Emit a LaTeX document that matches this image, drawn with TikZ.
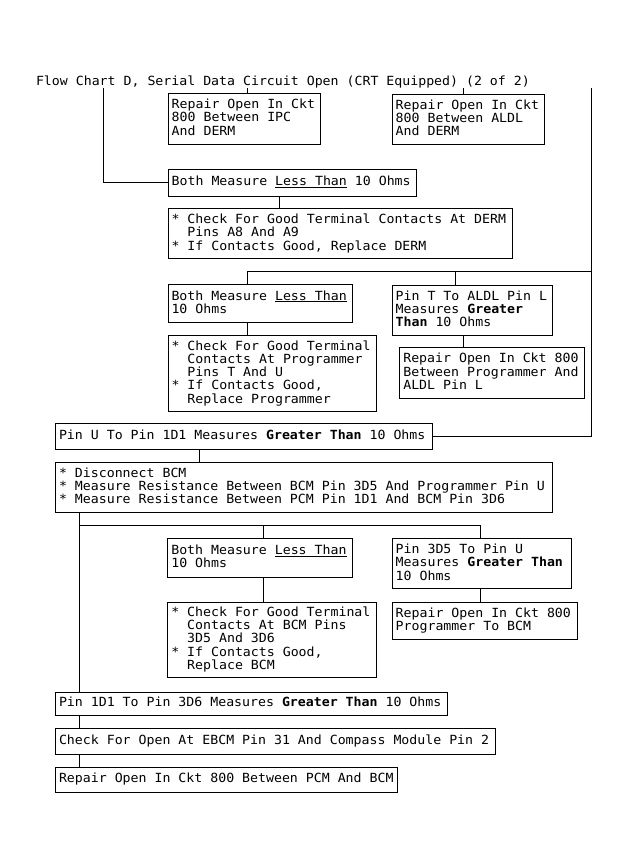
\documentclass[tikz,border=0pt]{standalone}
\usepackage{fontspec}
\newfontfamily\dvm[FakeStretch=1.05]{DejaVu Sans Mono}
\newcommand\boxfont{\dvm\fontsize{12.6pt}{12.5pt}\selectfont}
\newcommand\bxt[1]{\makebox[\dimexpr\bxw-7pt\relax][l]{\begin{tabular}{@{}l@{}}#1\end{tabular}}}
\begin{document}
\begin{tikzpicture}[x=1pt,y=-1pt,
  box/.style={draw, line width=1pt, anchor=north west, inner xsep=3.5pt, inner ysep=0pt,
    font=\boxfont},
  bx/.style 2 args={box, minimum width=#1pt, minimum height=#2pt,
    execute at begin node={\def\bxw{#1pt}}},
  wire/.style={line width=1pt}]
\fill[white] (0,0) rectangle (630,868);
\useasboundingbox (0,0) rectangle (630,868);

% title
\node[anchor=base west, inner sep=0pt, font=\boxfont] (title) at (35.8,85)
  {Flow Chart D, Serial Data Circuit Open (CRT Equipped) (2 of 2)};

% boxes
\node[bx={152.3}{50.7}] (A) at (167.7,93.3) {\bxt{Repair Open In Ckt\\800 Between IPC\\And DERM}};
\node[bx={152.3}{50.3}] (B) at (391.7,93.7) {\bxt{Repair Open In Ckt\\800 Between ALDL\\And DERM}};
\node[bx={248.3}{26.7}] (C) at (167.7,169) {\bxt{Both Measure \underline{Less Than} 10 Ohms}};
\node[bx={344.2}{50}] (D) at (167.5,208.3)
  {\bxt{* Check For Good Terminal Contacts At DERM\\\hphantom{*}~Pins A8 And A9\\{}* If Contacts Good, Replace DERM}};
\node[bx={184.8}{38}] (E) at (167.5,284.3) {\bxt{Both Measure \underline{Less Than}\\10 Ohms}};
\node[bx={160}{50.8}] (F) at (391.7,284.5) {\bxt{Pin T To ALDL Pin L\\Measures \textbf{Greater}\\\textbf{Than} 10 Ohms}};
\node[bx={208.5}{75.7}] (G) at (167.5,335.3)
  {\bxt{* Check For Good Terminal\\\hphantom{*}~Contacts At Programmer\\\hphantom{*}~Pins T And U\\{}* If Contacts Good,\\\hphantom{*}~Replace Programmer}};
\node[bx={184.7}{51}] (H) at (399.3,347.3) {\bxt{Repair Open In Ckt 800\\Between Programmer And\\ALDL Pin L}};
\node[bx={376.7}{25.7}] (I) at (55,423.3) {\bxt{Pin U To Pin 1D1 Measures \textbf{Greater Than} 10 Ohms}};
\node[bx={496.7}{49.4}] (J) at (55,462.3)
  {\bxt{* Disconnect BCM\\{}* Measure Resistance Between BCM Pin 3D5 And Programmer Pin U\\{}* Measure Resistance Between PCM Pin 1D1 And BCM Pin 3D6}};
\node[bx={185}{38.4}] (N) at (167.3,538.3) {\bxt{Both Measure \underline{Less Than}\\10 Ohms}};
\node[bx={208.4}{75.6}] (O) at (167.3,601.7)
  {\bxt{* Check For Good Terminal\\\hphantom{*}~Contacts At BCM Pins\\\hphantom{*}~3D5 And 3D6\\{}* If Contacts Good,\\\hphantom{*}~Replace BCM}};
\node[bx={179}{50}] (P) at (391.7,538.3) {\bxt{Pin 3D5 To Pin U\\Measures \textbf{Greater Than}\\10 Ohms}};
\node[bx={185}{37.3}] (Q) at (391.7,601.7) {\bxt{Repair Open In Ckt 800\\Programmer To BCM}};
\node[bx={392.3}{23.3}] (K) at (55,691.7) {\bxt{Pin 1D1 To Pin 3D6 Measures \textbf{Greater Than} 10 Ohms}};
\node[bx={440}{25.7}] (L) at (55,728.3) {\bxt{Check For Open At EBCM Pin 31 And Compass Module Pin 2}};
\node[bx={342.3}{25}] (M) at (55,766.7) {\bxt{Repair Open In Ckt 800 Between PCM And BCM}};

% connector columns / rows
\coordinate (xT) at (103,0);
\coordinate (xA) at (247.3,0);
\coordinate (xB) at (463.3,0);
\coordinate (xCD) at (279.3,0);
\coordinate (xF) at (455.7,0);
\coordinate (xR) at (591.5,0);
\coordinate (xIJ) at (199.3,0);
\coordinate (xJ) at (79.3,0);
\coordinate (xN) at (263.3,0);
\coordinate (xP) at (480,0);
\coordinate (yB1) at (0,271.5);
\coordinate (yB2) at (0,525.7);

% connectors
\draw[wire] (xA |- title.south) -- (xA |- A.north);
\draw[wire] (xB |- title.south) -- (xB |- B.north);
\draw[wire] (xT |- title.south) |- (C.west);
\draw[wire] (xCD |- C.south) -- (xCD |- D.north);
\draw[wire] (xR |- title.south) |- (I.east);
\draw[wire] (xA |- E.north) -- (xA |- yB1) -- (xR |- yB1);
\draw[wire] (xF |- yB1) -- (xF |- F.north);
\draw[wire] (xA |- E.south) -- (xA |- G.north);
\draw[wire] (xB |- F.south) -- (xB |- H.north);
\draw[wire] (xIJ |- I.south) -- (xIJ |- J.north);
\draw[wire] (xJ |- J.south) -- (xJ |- K.north);
\draw[wire] (xJ |- yB2) -- (xP |- yB2) -- (xP |- P.north);
\draw[wire] (xN |- yB2) -- (xN |- N.north);
\draw[wire] (xN |- N.south) -- (xN |- O.north);
\draw[wire] (xP |- P.south) -- (xP |- Q.north);
\draw[wire] (xJ |- K.south) -- (xJ |- L.north);
\draw[wire] (xJ |- L.south) -- (xJ |- M.north);
\end{tikzpicture}
\end{document}
